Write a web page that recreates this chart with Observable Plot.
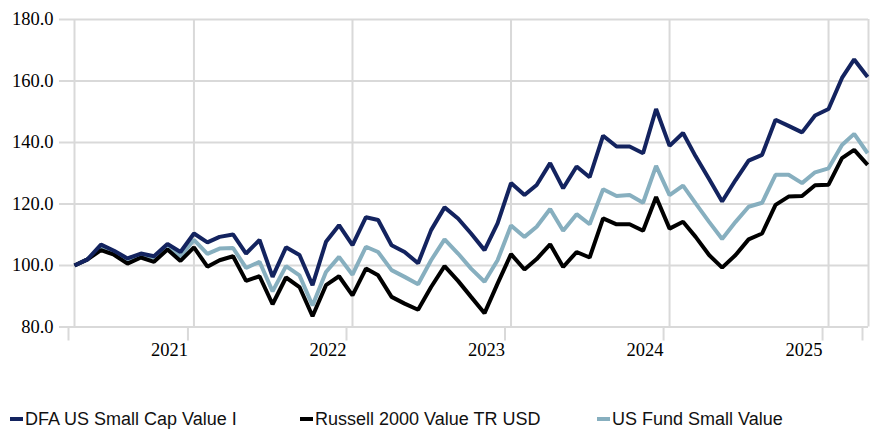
<!DOCTYPE html>
<html><head><meta charset="utf-8">
<script src="https://cdn.jsdelivr.net/npm/d3@7"></script>
<script src="https://cdn.jsdelivr.net/npm/@observablehq/plot@0.6"></script>
<style>
body{margin:0;background:#fff;}
#wrap{position:relative;width:874px;height:433px;overflow:hidden;}
.leg{position:absolute;top:408px;font:18px "Liberation Sans",Arial,sans-serif;color:#111;white-space:nowrap;line-height:22px;}
.leg i{display:inline-block;width:13px;height:4px;vertical-align:middle;margin-right:2px;position:relative;top:-1px;}
</style></head>
<body><div id="wrap"><div id="chart"></div></div>
<script>
// Series names and colours
const seriesNames = ["DFA US Small Cap Value I", "Russell 2000 Value TR USD", "US Fund Small Value"];
const seriesColors = ["#13235f", "#000000", "#87afbf"];
const legendX = [10, 300, 597];

// Monthly values (growth of 100), Apr 2020 .. Apr 2025
const dfa = [100,102,106.8,104.8,102.3,103.9,103,107,104.4,110.4,
  107.5,109.3,110.1,103.9,108.3,96.3,105.9,103.4,93.6,107.7,
  113.1,106.6,115.7,114.8,106.6,104.4,100.7,111.5,118.9,115.3,
  110.4,105,113.7,126.8,122.9,126.2,133.3,125.1,132.2,128.7,
  142.2,138.7,138.7,136.5,150.9,138.9,143.1,135.5,128.1,120.8,
  127.8,134.1,136,147.4,145.4,143.3,148.8,150.9,161,167,161.3];
const russell = [100,102,105,103.5,100.6,102.6,101.2,105.2,101.5,105.9,
  99.6,101.7,103,95,96.5,87.4,96.1,93,83.5,93.6,
  96.5,90.3,99,96.8,89.8,87.6,85.6,93,99.8,95,
  89.8,84.5,94.1,103.7,98.7,102.1,106.9,99.5,104.4,102.6,
  115.3,113.4,113.4,111.3,122.3,112,114.2,109.3,103.4,99.3,
  103.4,108.5,110.4,119.7,122.4,122.6,126.1,126.3,134.9,137.6,132.7];
const fund = [100,102,106,104,101.5,103.5,102.5,106,103,108.3,
  103.8,105.5,105.7,99.2,101.2,91.6,99.8,96.8,87,97.9,
  102.8,97,106.1,104.4,98.5,96.3,93.9,101.7,108.5,103.9,
  99,94.7,101.7,113,109.3,112.6,118.4,111.3,116.7,113.4,
  124.8,122.6,122.9,120.4,132.4,122.9,126,120.2,114.2,108.6,
  114.2,119.1,120.4,129.5,129.5,126.8,130.3,131.6,139.2,142.8,136.5];

// Axis ticks
const yTicks = [80, 100, 120, 140, 160, 180];
const yearTicks = [2021, 2022, 2023, 2024, 2025];

const startDate = new Date(Date.UTC(2020, 3, 1));
const endDomain = new Date(Date.UTC(2025, 3, 3));
const dates = d3.utcMonth.range(startDate, new Date(Date.UTC(2025, 4, 1)));
const xGrid = [startDate, ...yearTicks.map(y => new Date(Date.UTC(y, 0, 1))), endDomain];

const lineOpts = (vals, color) => Plot.line(vals, {
  x: (d, i) => dates[i], y: d => d,
  stroke: color, strokeWidth: 4, strokeLinejoin: "miter", strokeLinecap: "butt"
});

const chart = Plot.plot({
  width: 874, height: 370,
  marginTop: 19, marginBottom: 43.5, marginLeft: 74, marginRight: 6,
  style: {fontFamily: '"Liberation Serif","Times New Roman",serif', fontSize: "18.5px", color: "#000", background: "#fff"},
  x: {type: "utc", domain: [startDate, endDomain]},
  y: {domain: [80, 180]},
  marks: [
    Plot.gridY(yTicks, {stroke: "#d9d9d9", strokeOpacity: 1, strokeWidth: 2}),
    Plot.gridX(xGrid, {stroke: "#d9d9d9", strokeOpacity: 1, strokeWidth: 2}),
    Plot.axisY(yTicks, {tickSize: 15, tickPadding: 6, stroke: "#d9d9d9", strokeOpacity: 1, strokeWidth: 2,
      fill: "#000", tickFormat: d => d.toFixed(1), label: null}),
    Plot.axisX(xGrid, {tickSize: 14, tickPadding: 2, stroke: "#d9d9d9", strokeOpacity: 1, strokeWidth: 2,
      fill: "#000", textAnchor: "end", dx: -6, label: null,
      tickFormat: d => (d.getUTCMonth() === 0 && d.getUTCDate() === 1 && +d !== +startDate) ? String(d.getUTCFullYear()) : ""}),
    lineOpts(fund, seriesColors[2]),
    lineOpts(russell, seriesColors[1]),
    lineOpts(dfa, seriesColors[0])
  ]
});
document.getElementById("chart").append(chart);

const wrap = document.getElementById("wrap");
seriesNames.forEach((name, i) => {
  const d = document.createElement("div");
  d.className = "leg";
  d.style.left = legendX[i] + "px";
  const m = document.createElement("i");
  m.style.background = seriesColors[i];
  d.append(m, document.createTextNode(name));
  wrap.append(d);
});
</script>
</body></html>
